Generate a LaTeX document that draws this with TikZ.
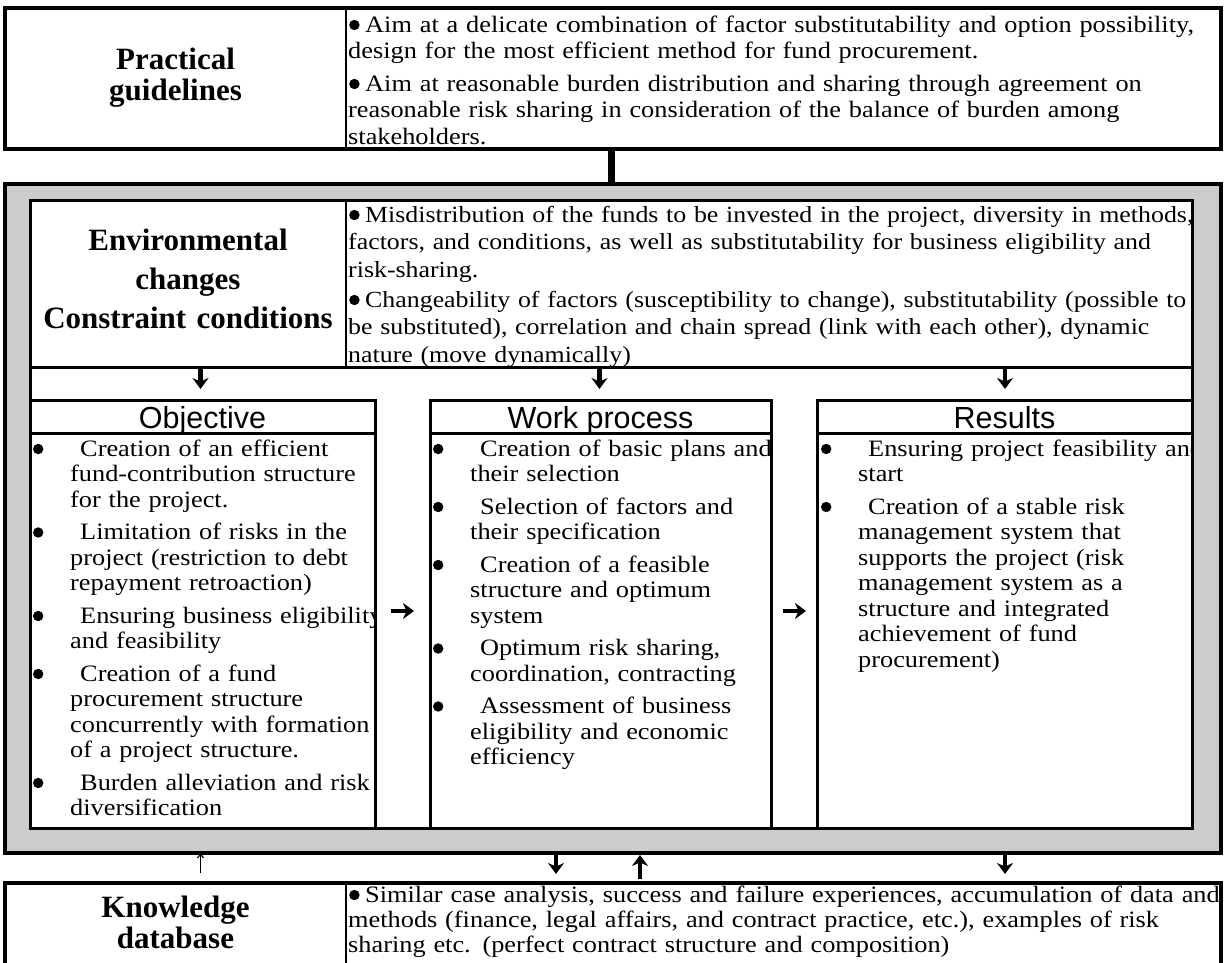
\documentclass[tikz,border=0pt]{standalone}
\usepackage{fontspec}
\setmainfont{Liberation Serif}[FakeStretch=1.12]
\newfontfamily\lblfont{Liberation Serif}
\newfontfamily\hdrfont{Liberation Sans}
\usetikzlibrary{arrows.meta}
\definecolor{framegray}{HTML}{CCCCCC}
\newcommand\bdot{\tikz[baseline={(0pt,-7pt)}]\fill (0pt,0pt) circle[radius=5.2pt];}
\newcommand\wb{\makebox[0pt][l]{\hspace*{1pt}\bdot}\hspace*{17pt}}
\newcommand\cb{\makebox[0pt][r]{\bdot\hspace*{26.8pt}}\hspace*{10pt}}
\tikzset{
  box/.style={draw=black, line width=3.5pt, anchor=north west, inner sep=0pt, outer sep=0pt},
  colbox/.style={box, line width=3pt, fill=white},
  divider/.style={line width=2.5pt},
  bodytext/.style={anchor=base west, inner sep=0pt, text width=1500pt, align=left, font=\fontsize{23.5}{26.5}\selectfont},
  coltext/.style={bodytext, font=\fontsize{23.5}{25.5}\selectfont},
  lbl/.style={anchor=base, inner sep=0pt, text width=320pt, align=center, font=\lblfont\bfseries\fontsize{31}{31}\selectfont},
  hdr/.style={anchor=base, inner sep=0pt, font=\hdrfont\fontsize{30.5}{32}\selectfont},
  heavy/.style={line width=4.5pt, -{Stealth[length=11pt,width=16pt,inset=3.5pt]}},
  thinarrow/.style={line width=1.2pt, -{Straight Barb[length=4pt,width=6pt]}},
  bar/.style={line width=7pt}
}
\begin{document}
\begin{tikzpicture}[x=1pt,y=-1pt]
\useasboundingbox (0,0) rectangle (1226,962);
\fill[white] (0,0) rectangle (1226,962);
\begin{scope}
\clip (0,0) rectangle (1226,962);

% ---------- practical guidelines ----------
\node[box, fill=white, minimum width=1216pt, minimum height=141pt] (guide) at (5,8) {};
\draw[divider] (346,8) -- (346,149);
\node[lbl] (guidelbl) at (175.5,69) {Practical\\guidelines};
\begin{scope}
\clip (346,8) rectangle (1221,149);
\node[bodytext] (guidetxt) at (348,32) {\wb Aim at a delicate combination of factor substitutability and option possibility,\\
design for the most efficient method for fund procurement.\\[6pt]
\wb Aim at reasonable burden distribution and sharing through agreement on\\
reasonable risk sharing in consideration of the balance of burden among\\
stakeholders.};
\end{scope}

% ---------- grey frame ----------
\node[box, fill=framegray, minimum width=1216pt, minimum height=669pt] (frame) at (5,184) {};
\coordinate (barx) at (611.5,0);
\draw[bar] (guide.south -| barx) -- (frame.north -| barx);
\node[colbox, minimum width=1162pt, minimum height=628pt] (inner) at (30,200) {};

% environmental changes
\node[colbox, minimum width=1162pt, minimum height=167pt] (env) at (30,200) {};
\draw[divider] (346,200) -- (346,367);
\node[lbl, font=\lblfont\bfseries\fontsize{31}{39}\selectfont] (envlbl) at (188,250) {Environmental\\changes\\Constraint conditions};
\begin{scope}
\clip (346,200) rectangle (1192,367);
\node[bodytext, font=\fontsize{23.1}{27.5}\selectfont] (envtxt) at (348,222) {\wb Misdistribution of the funds to be invested in the project, diversity in methods,\\
factors, and conditions, as well as substitutability for business eligibility and\\
risk-sharing.\\[2.5pt]
\wb Changeability of factors (susceptibility to change), substitutability (possible to\\
be substituted), correlation and chain spread (link with each other), dynamic\\
nature (move dynamically)};
\end{scope}

% columns
\node[colbox, minimum width=345pt, minimum height=428pt] (obj) at (30,400) {};
\node[colbox, minimum width=341pt, minimum height=428pt] (wp) at (430,400) {};
\node[colbox, minimum width=375pt, minimum height=428pt] (res) at (817,400) {};
\draw[line width=3pt] (30,433) -- (375,433);
\draw[line width=3pt] (430,433) -- (771,433);
\draw[line width=3pt] (817,433) -- (1192,433);
\node[hdr] (objhdr) at (202.5,428) {Objective};
\node[hdr] (wphdr) at (600.5,428) {Work process};
\node[hdr] (reshdr) at (1004.5,428) {Results};

\begin{scope}
\clip (30,433) rectangle (375,828);
\node[coltext] (objtxt) at (70,456) {\cb Creation of an efficient\\
fund-contribution structure\\
for the project.\\[7pt]
\cb Limitation of risks in the\\
project (restriction to debt\\
repayment retroaction)\\[7pt]
\cb Ensuring business eligibility\\
and feasibility\\[7pt]
\cb Creation of a fund\\
procurement structure\\
concurrently with formation\\
of a project structure.\\[7pt]
\cb Burden alleviation and risk\\
diversification};
\end{scope}
\begin{scope}
\clip (430,433) rectangle (771,828);
\node[coltext] (wptxt) at (470,456) {\cb Creation of basic plans and\\
their selection\\[7pt]
\cb Selection of factors and\\
their specification\\[7pt]
\cb Creation of a feasible\\
structure and optimum\\
system\\[7pt]
\cb Optimum risk sharing,\\
coordination, contracting\\[7pt]
\cb Assessment of business\\
eligibility and economic\\
efficiency};
\end{scope}
\begin{scope}
\clip (817,433) rectangle (1192,828);
\node[coltext] (restxt) at (858,456) {\cb Ensuring project feasibility and\\
start\\[7pt]
\cb Creation of a stable risk\\
management system that\\
supports the project (risk\\
management system as a\\
structure and integrated\\
achievement of fund\\
procurement)};
\end{scope}

% arrows inside frame
\coordinate (d1) at (200.5,389);
\coordinate (d2) at (599.5,389);
\coordinate (d3) at (1005,389);
\draw[heavy] (env.south -| d1) -- (d1);
\draw[heavy] (env.south -| d2) -- (d2);
\draw[heavy] (env.south -| d3) -- (d3);
\coordinate (h1s) at (391,611);
\coordinate (h1e) at (414,611);
\coordinate (h2s) at (783,611);
\coordinate (h2e) at (806,611);
\draw[heavy] (h1s) -- (h1e);
\draw[heavy] (h2s) -- (h2e);

% ---------- knowledge database ----------
\node[box, fill=white, minimum width=1216pt, minimum height=130pt] (know) at (5,883) {};
\draw[divider] (346,883) -- (346,1013);
\node[lbl] (knowlbl) at (175.5,917) {Knowledge\\database};
\begin{scope}
\clip (346,883) rectangle (1221,1013);
\node[bodytext, font=\fontsize{23.5}{25}\selectfont] (knowtxt) at (348,902) {\wb Similar case analysis, success and failure experiences, accumulation of data and\\
methods (finance, legal affairs, and contract practice, etc.), examples of risk\\
sharing etc. (perfect contract structure and composition)};
\end{scope}

% arrows between frame and knowledge box
\coordinate (u1) at (200.5,873);
\coordinate (b1) at (556,874);
\coordinate (u2) at (640,879);
\coordinate (u2e) at (640,855);
\coordinate (b2) at (1005,874);
\draw[thinarrow] (u1) -- (frame.south -| u1);
\draw[heavy] (frame.south -| b1) -- (b1);
\draw[heavy] (u2) -- (u2e);
\draw[heavy] (frame.south -| b2) -- (b2);
\end{scope}
\end{tikzpicture}
\end{document}
